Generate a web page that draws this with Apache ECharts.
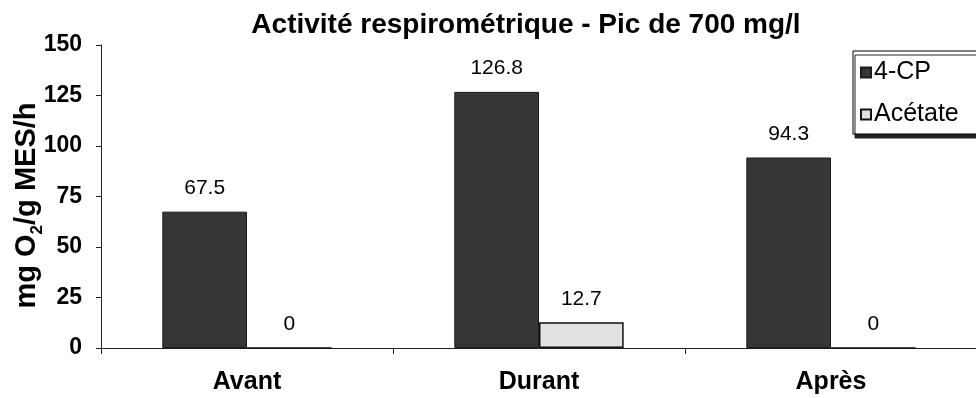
<!DOCTYPE html>
<html>
<head>
<meta charset="utf-8">
<script src="https://cdn.jsdelivr.net/npm/echarts@6/dist/echarts.min.js"></script>
<style>
  html, body { margin: 0; padding: 0; background: #fff; }
  #chart { width: 976px; height: 398px; }
</style>
</head>
<body>
<div id="chart"></div>
<script>
// Respirometric activity per phase of the 700 mg/l peak
const categories = ['Avant', 'Durant', 'Après'];
const seriesNames = ['4-CP', 'Acétate'];
const cpValues = [67.5, 126.8, 94.3];
const acetateValues = [0, 12.7, 0];
const yTicks = [0, 25, 50, 75, 100, 125, 150];

const FONT = '"Liberation Sans", Arial, sans-serif';

const chart = echarts.init(document.getElementById('chart'), null, { renderer: 'canvas' });

const labelStyle = {
  show: true,
  position: 'top',
  distance: 13,
  fontFamily: FONT,
  fontSize: 21,
  color: '#000',
  formatter: p => String(p.value)
};

chart.setOption({
  animation: false,
  backgroundColor: '#fff',
  title: {
    text: 'Activité respirométrique - Pic de 700 mg/l',
    left: 521,
    textAlign: 'center',
    top: 6,
    textStyle: { fontFamily: FONT, fontWeight: 'bold', fontSize: 28, color: '#000' }
  },
  legend: {
    data: seriesNames,
    orient: 'vertical',
    left: 853,
    top: 51,
    padding: [9, 60, 7, 7],
    itemGap: 17,
    itemWidth: 10,
    itemHeight: 10,
    icon: 'rect',
    backgroundColor: '#fff',
    borderColor: '#000',
    borderWidth: 1,
    shadowColor: '#222',
    shadowBlur: 0,
    shadowOffsetX: 2,
    shadowOffsetY: 4,
    textStyle: { fontFamily: FONT, fontSize: 25, color: '#000', padding: [0, 0, 0, -2] }
  },
  grid: { left: 101, top: 45, width: 876, height: 303, containLabel: false, outerBoundsMode: 'none' },
  xAxis: {
    type: 'category',
    data: categories,
    axisLine: { lineStyle: { color: '#222', width: 1 } },
    axisTick: { show: true, alignWithLabel: false, length: 6, lineStyle: { color: '#222' } },
    axisLabel: { margin: 22, fontFamily: FONT, fontWeight: 'bold', fontSize: 25, color: '#000' }
  },
  yAxis: {
    type: 'value',
    min: yTicks[0],
    max: yTicks[yTicks.length - 1],
    interval: yTicks[1] - yTicks[0],
    name: '{a|mg O}{s|2}{a|/g MES/h}',
    nameLocation: 'middle',
    nameGap: 60,
    nameRotate: 90,
    nameMoveOverlap: false,
    nameTextStyle: {
      padding: [0, 18, 0, 0],
      rich: {
        a: { fontFamily: FONT, fontWeight: 'bold', fontSize: 29, color: '#000', lineHeight: 32, verticalAlign: 'bottom' },
        s: { fontFamily: FONT, fontWeight: 'bold', fontSize: 17, color: '#000', lineHeight: 32, verticalAlign: 'bottom', padding: [0, 0, -5, 0] }
      }
    },
    splitLine: { show: false },
    axisLine: { show: true, lineStyle: { color: '#222', width: 1 } },
    axisTick: { show: true, length: 5, lineStyle: { color: '#222' } },
    axisLabel: { margin: 19, fontFamily: FONT, fontWeight: 'bold', fontSize: 23, color: '#000' }
  },
  series: [
    {
      name: seriesNames[0],
      type: 'bar',
      data: cpValues,
      barGap: '0%',
      barCategoryGap: '42%',
      itemStyle: { color: '#363636', borderColor: '#1a1a1a', borderWidth: 1 },
      label: labelStyle
    },
    {
      name: seriesNames[1],
      type: 'bar',
      data: acetateValues,
      barGap: '0%',
      barCategoryGap: '42%',
      itemStyle: { color: '#e2e2e2', borderColor: '#111', borderWidth: 1.5 },
      label: labelStyle
    }
  ]
});
</script>
</body>
</html>
